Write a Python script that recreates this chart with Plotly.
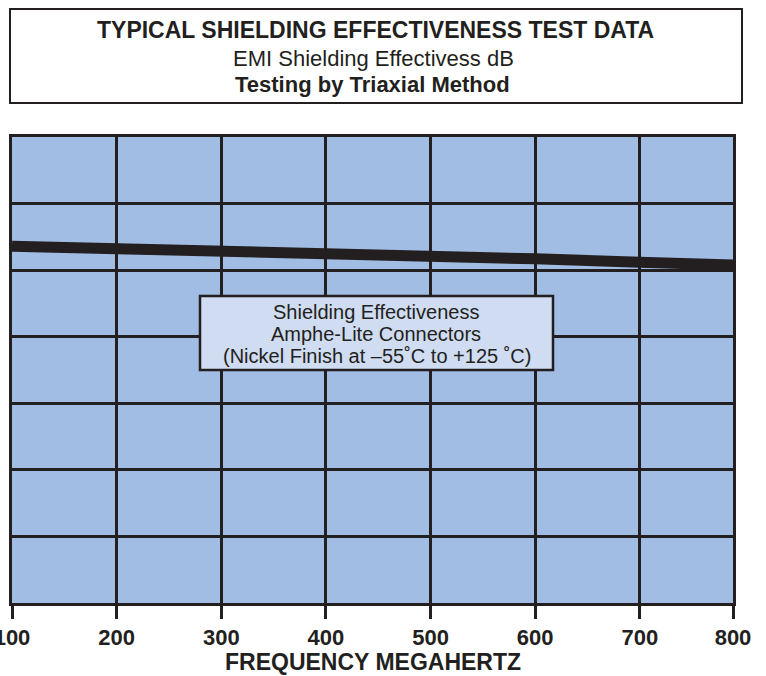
import plotly.graph_objects as go

freq_mhz = [100, 200, 300, 400, 500, 600, 700, 800]
shielding_db = [53.6, 53.3, 53.0, 52.6, 52.2, 51.7, 51.2, 50.7]
x_ticks = [100, 200, 300, 400, 500, 600, 700, 800]
x_tick_labels = ["100", "200", "300", "400", "500", "600", "700", "800"]
y_grid = [0, 10, 20, 30, 40, 50, 60, 70]

# the source chart's last interval (700-800) is drawn narrower than the others;
# the axis is scaled uniformly and the final "800" label sits at the frame edge
X_AXIS_END = 789

W, H = 766, 676
L, R, T, B = 12, 733, 137, 603
pw, ph = R - L, B - T

def px(x):
    return (x - L) / pw

def py(y):
    return (B - y) / ph

dark = "#231f20"
FONT = "Liberation Sans, Arial, Helvetica, sans-serif"

fig = go.Figure()
fig.add_trace(go.Scatter(x=freq_mhz, y=shielding_db, mode="lines",
                         line=dict(color=dark, width=11), showlegend=False,
                         hoverinfo="skip"))

tick_pos = x_ticks[:-1] + [X_AXIS_END]

fig.update_layout(
    width=W, height=H,
    margin=dict(l=L, r=W - R, t=T, b=H - B, autoexpand=False),
    paper_bgcolor="white", plot_bgcolor="#a1bde3",
    font=dict(family=FONT, color=dark),
    xaxis=dict(range=[x_ticks[0], X_AXIS_END], tickvals=tick_pos, ticktext=x_tick_labels,
               showgrid=True, gridcolor=dark, gridwidth=2.7, zeroline=False,
               showline=True, linecolor=dark, linewidth=3, mirror=True,
               ticks="outside", ticklen=13, tickwidth=2.5, tickcolor=dark,
               ticklabeloverflow="allow", automargin=False,
               tickfont=dict(size=22, family=FONT, color=dark, weight="bold"),
               fixedrange=True),
    yaxis=dict(range=[0, 70], tickvals=y_grid, showticklabels=False,
               showgrid=True, gridcolor=dark, gridwidth=2.7, zeroline=False,
               showline=True, linecolor=dark, linewidth=3, mirror=True,
               ticks="", automargin=False, fixedrange=True),
)

shapes = [
    dict(type="rect", xref="paper", yref="paper",
         x0=px(10), x1=px(742), y0=py(103), y1=py(9),
         line=dict(color=dark, width=2), fillcolor="white", layer="above"),
    dict(type="rect", xref="paper", yref="paper",
         x0=px(200), x1=px(553), y0=py(370), y1=py(296),
         line=dict(color=dark, width=2.5), fillcolor="#cfdcf1", layer="above"),
]
fig.update_layout(shapes=shapes)

anns = [
    dict(text="<b>TYPICAL SHIELDING EFFECTIVENESS TEST DATA</b>", x=px(375), y=py(30), size=23),
    dict(text="EMI Shielding Effectivess dB", x=px(373), y=py(59), size=22),
    dict(text="<b>Testing by Triaxial Method</b>", x=px(372), y=py(85), size=22),
    dict(text="Shielding Effectiveness", x=px(376), y=py(312), size=20),
    dict(text="Amphe-Lite Connectors", x=px(376), y=py(334), size=20),
    dict(text="(Nickel Finish at \u201355\u02daC to +125 \u02daC)", x=px(377), y=py(356), size=20),
    dict(text="<b>FREQUENCY MEGAHERTZ</b>", x=px(373), y=py(662), size=23),
]
for a in anns:
    fig.add_annotation(text=a["text"], x=a["x"], y=a["y"], xref="paper", yref="paper",
                       showarrow=False, xanchor="center", yanchor="middle",
                       font=dict(size=a["size"], color=dark, family=FONT))

fig.write_html("out.html", config={"displayModeBar": False},
               post_script="document.body.style.margin='0';")
